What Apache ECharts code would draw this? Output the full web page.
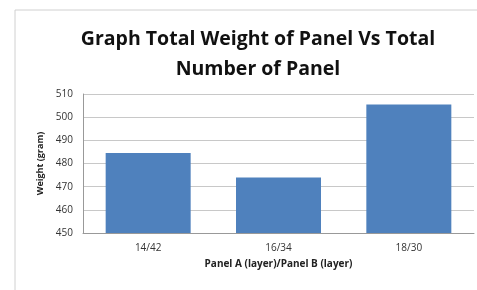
<!DOCTYPE html>
<html>
<head>
<meta charset="utf-8">
<script src="https://cdn.jsdelivr.net/npm/echarts@6/dist/echarts.min.js"></script>
<style>
  html, body { margin: 0; padding: 0; background: #fff; }
  #chart { width: 477px; height: 290px; }
</style>
</head>
<body>
<div id="chart"></div>
<script>
// data
const categories = ['14/42', '16/34', '18/30']
const weights = [484.5, 474, 505.5]
const yTicks = [450, 460, 470, 480, 490, 500, 510]

const dom = document.querySelector('#chart')
let myChart = echarts.init(dom)
let option = {
    animation: false,
    title: {
        text: 'Graph Total Weight of Panel Vs Total\nNumber of Panel',
        left: 253,
        top: 19,
        textAlign: 'center',
        textStyle: {
            fontFamily: 'Open Sans',
            fontWeight: 'bold',
            fontSize: 19.5,
            lineHeight: 30,
            color: '#111',
        },
    },
    graphic: [
        {
            type: 'rect',
            shape: { x: 15, y: 10, width: 470, height: 290 },
            style: { fill: 'none', stroke: '#d0d0d0', lineWidth: 1 },
        },
    ],
    grid: {
        left: 83,
        right: 3,
        top: 94,
        bottom: 57,
    },
    xAxis: {
        type: 'category',
        data: categories,
        name: 'Panel A (layer)/Panel B (layer)',
        nameLocation: 'middle',
        nameGap: 26,
        nameTextStyle: {
            fontFamily: 'Open Sans',
            fontWeight: 'bold',
            fontSize: 10,
            color: '#222',
        },
        axisLine: { lineStyle: { color: '#999' } },
        axisTick: { show: false },
        axisLabel: {
            fontFamily: 'Open Sans',
            fontSize: 10,
            color: '#333',
            margin: 10,
        },
    },
    yAxis: {
        type: 'value',
        min: yTicks[0],
        max: yTicks[yTicks.length - 1],
        interval: 10,
        name: 'Weight (gram)',
        nameLocation: 'middle',
        nameGap: 36,
        nameTextStyle: {
            fontFamily: 'Open Sans',
            fontWeight: 'bold',
            fontSize: 9,
            color: '#222',
        },
        axisLine: { show: true, lineStyle: { color: '#999' } },
        axisTick: { show: false },
        axisLabel: {
            fontFamily: 'Open Sans',
            fontSize: 10,
            color: '#333',
            margin: 10,
        },
        splitLine: { lineStyle: { color: '#c8c8c8' } },
    },
    series: [
        {
            type: 'bar',
            data: weights,
            barWidth: 85,
            itemStyle: { color: '#4f81bd' },
        },
    ],
}
myChart.setOption(option)
</script>
</body>
</html>
